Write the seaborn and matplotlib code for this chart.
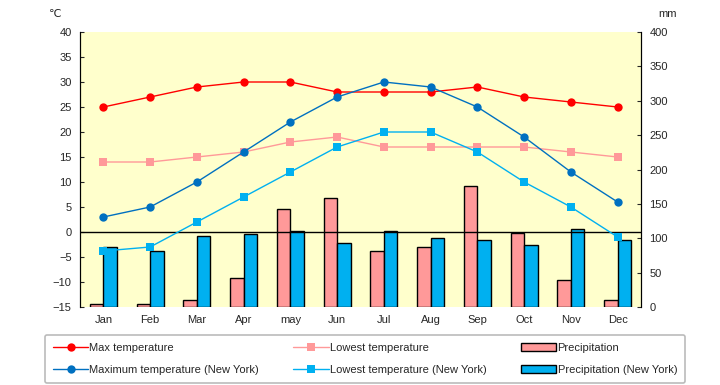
import numpy as np
import pandas as pd
import seaborn as sns
import matplotlib
matplotlib.use("Agg")
from matplotlib import pyplot as plt
from matplotlib.lines import Line2D
from matplotlib.patches import Patch

months = ["Jan", "Feb", "Mar", "Apr", "may", "Jun", "Jul", "Aug", "Sep", "Oct", "Nov", "Dec"]
max_temp = [25, 27, 29, 30, 30, 28, 28, 28, 29, 27, 26, 25]
low_temp = [14, 14, 15, 16, 18, 19, 17, 17, 17, 17, 16, 15]
ny_max = [3, 5, 10, 16, 22, 27, 30, 29, 25, 19, 12, 6]
ny_low = [-3.8, -3, 2, 7, 12, 17, 20, 20, 16, 10, 5, -1]
precip = [4, 4, 10, 42, 143, 158, 81, 88, 176, 108, 39, 10]
ny_precip = [87, 82, 103, 106, 111, 93, 110, 101, 98, 90, 113, 98]

sns.set_style("ticks")
plt.rcParams["font.family"] = ["Liberation Sans", "DejaVu Sans"]
plt.rcParams["font.size"] = 8

c_red = "#FF0000"
c_pink = "#FF9999"
c_navy = "#0070C0"
c_sky = "#00B0F0"

bars = pd.DataFrame({
    "month": months * 2,
    "mm": precip + ny_precip,
    "series": ["Precipitation"] * 12 + ["Precipitation (New York)"] * 12,
})

fig = plt.figure(figsize=(7.2, 3.85), dpi=100)
ax = fig.add_axes([80 / 720, 78 / 385, 561 / 720, 275 / 385])
ax.set_facecolor("#FFFFCC")

sns.barplot(data=bars, x="month", y="mm", hue="series", order=months,
            palette=[c_pink, c_sky], width=0.58, edgecolor="black",
            linewidth=1, saturation=1, legend=False, ax=ax)
ax.set_ylim(0, 400)
ax.set_yticks(range(0, 401, 50))
ax.set_xlim(-0.5, 11.5)
ax.set_xlabel("")
ax.set_ylabel("")

# temperatures on a twin axis drawn over the bars
ax2 = ax.twinx()
x = np.arange(12)
ax2.axhline(0, color="black", lw=1, zorder=1)
sns.lineplot(x=x, y=max_temp, color=c_red, marker="o", markersize=6,
             markeredgewidth=0, lw=1, ax=ax2)
sns.lineplot(x=x, y=low_temp, color=c_pink, marker="s", markersize=6,
             markeredgewidth=0, lw=1, ax=ax2)
sns.lineplot(x=x, y=ny_max, color=c_navy, marker="o", markersize=6,
             markeredgewidth=0, lw=1, ax=ax2)
sns.lineplot(x=x, y=ny_low, color=c_sky, marker="s", markersize=6,
             markeredgewidth=0, lw=1, ax=ax2)
ax2.set_ylim(-15, 40)
ax2.set_yticks(range(-15, 41, 5))
ax2.set_xlim(-0.5, 11.5)

# swap sides: mm on the right, °C on the left
ax.yaxis.tick_right()
ax2.yaxis.tick_left()
ax.tick_params(axis="x", length=0, pad=6, labelsize=8)
ax.tick_params(axis="y", direction="in", length=3, labelsize=8, pad=6)
ax2.tick_params(axis="y", direction="in", length=3, labelsize=8, pad=6)

for a in (ax, ax2):
    a.spines["top"].set_visible(False)
    a.spines["bottom"].set_visible(False)
    a.spines["left"].set_color("black")
    a.spines["right"].set_color("black")

fig.text(55 / 720, 1 - 14 / 385, "℃", ha="center", va="center", fontsize=8,
         family=["DejaVu Sans"])
fig.text(668 / 720, 1 - 14 / 385, "mm", ha="center", va="center", fontsize=8)

handles = [
    Line2D([], [], color=c_red, marker="o", markersize=6, markeredgewidth=0, lw=1),
    Line2D([], [], color=c_navy, marker="o", markersize=6, markeredgewidth=0, lw=1),
    Line2D([], [], color=c_pink, marker="s", markersize=6, markeredgewidth=0, lw=1),
    Line2D([], [], color=c_sky, marker="s", markersize=6, markeredgewidth=0, lw=1),
    Patch(facecolor=c_pink, edgecolor="black", lw=1),
    Patch(facecolor=c_sky, edgecolor="black", lw=1),
]
labels = ["Max temperature", "Maximum temperature (New York)",
          "Lowest temperature", "Lowest temperature (New York)",
          "Precipitation", "Precipitation (New York)"]
leg = fig.legend(handles, labels, ncol=3, mode="expand",
                 bbox_to_anchor=(45 / 720, 2 / 385, 640 / 720, 50 / 385),
                 loc="lower left", frameon=True, fancybox=True,
                 edgecolor="#AAAAAA", fontsize=8, handlelength=3.2,
                 handletextpad=0.1, labelspacing=1.1, borderpad=0.7,
                 borderaxespad=0)
leg.get_frame().set_linewidth(1.2)

plt.savefig("out.png", dpi=100)
plt.close(fig)
